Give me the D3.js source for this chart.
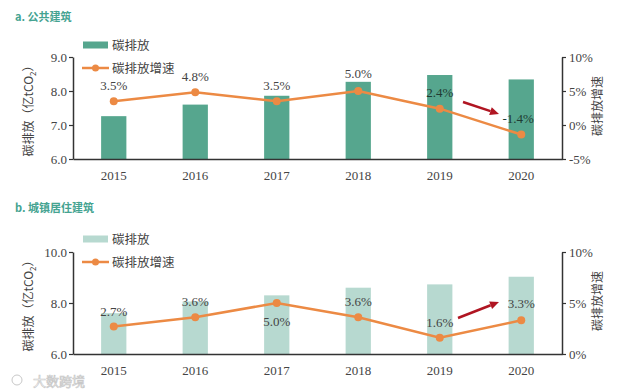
<!DOCTYPE html>
<html><head><meta charset="utf-8">
<script src="https://cdn.jsdelivr.net/npm/d3@7"></script>
<style>
body{margin:0;background:#fff;}
svg{display:block;}
</style></head>
<body>
<svg id="c" width="640" height="392"></svg>
<script>
const years = ["2015","2016","2017","2018","2019","2020"];
// a. 公共建筑
const pubEmission = [7.26, 7.6, 7.86, 8.27, 8.47, 8.34];
const pubGrowth = [3.5, 4.8, 3.5, 5.0, 2.4, -1.4];
const pubLeftTicks = [6, 7, 8, 9];
const pubRightTicks = [-5, 0, 5, 10];
// b. 城镇居住建筑
const resEmission = [7.6, 8.06, 8.3, 8.6, 8.73, 9.03];
const resGrowth = [2.7, 3.6, 5.0, 3.6, 1.6, 3.3];
const resLeftTicks = [6, 8, 10];
const resRightTicks = [0, 5, 10];

const svg = d3.select("#c");
const serif = "'Liberation Serif','Times New Roman',serif";
const cjk = "'Noto Sans CJK SC',sans-serif";

function panel(o){
  const g = svg.append("g");
  const x = d3.scaleBand().domain(years).range([73, 562]).paddingInner(0.69).paddingOuter(0.345);
  const yL = d3.scaleLinear().domain(o.leftDomain).range([o.bottom, o.top]);
  const yR = d3.scaleLinear().domain(o.rightDomain).range([o.bottom, o.top]);

  // title
  g.append("text").attr("x", 15).attr("y", o.titleY).attr("font-family", cjk)
    .attr("font-size", 11).attr("font-weight", "bold").attr("fill", "#45a391").text(o.title);

  // bars
  g.selectAll("rect.bar").data(o.emission).enter().append("rect")
    .attr("x", (d,i)=>x(years[i])).attr("width", x.bandwidth())
    .attr("y", d=>yL(d)).attr("height", d=>yL(o.leftDomain[0]) - yL(d))
    .attr("fill", o.barColor);

  // left axis
  const la = g.append("g").attr("transform", "translate(73,0)")
    .call(d3.axisLeft(yL).tickValues(o.leftTicks).tickFormat(d3.format(".1f")).tickSize(4).tickSizeOuter(0));
  // right axis
  const ra = g.append("g").attr("transform", "translate(562,0)")
    .call(d3.axisRight(yR).tickValues(o.rightTicks).tickFormat(d=>d+"%").tickSize(4).tickSizeOuter(0));
  // x axis
  const xa = g.append("g").attr("transform", `translate(0,${o.bottom})`)
    .call(d3.axisBottom(x).tickSize(0).tickSizeOuter(0));
  [la, ra, xa].forEach(a=>{
    a.select(".domain").attr("stroke", "#333").attr("stroke-width", 1.5);
    a.selectAll(".tick line").attr("stroke", "#333").attr("stroke-width", 1.2);
    a.selectAll("text").attr("font-family", serif).attr("font-size", 13).attr("fill", "#444");
  });
  xa.selectAll("text").attr("dy", "1.4em");
  la.selectAll("text").attr("x", -6);
  ra.selectAll("text").attr("x", 7);

  // axis titles
  const lt = g.append("text").attr("transform", `translate(33,${(o.top+o.bottom)/2}) rotate(-90)`)
    .attr("text-anchor", "middle").attr("font-family", cjk).attr("font-size", 12).attr("fill", "#444");
  lt.append("tspan").text("碳排放（亿tCO");
  lt.append("tspan").attr("font-size", 8).attr("dy", 3).text("2");
  lt.append("tspan").attr("dy", -3).text("）");
  g.append("text").attr("transform", `translate(602,${(o.top+o.bottom)/2 - 2}) rotate(-90)`)
    .attr("text-anchor", "middle").attr("font-family", cjk).attr("font-size", 12).attr("fill", "#444")
    .text("碳排放增速");

  // line
  const cx = i => x(years[i]) + x.bandwidth()/2;
  const line = d3.line().x((d,i)=>cx(i)).y(d=>yR(d));
  g.append("path").datum(o.growth).attr("d", line).attr("fill", "none")
    .attr("stroke", "#ec8a44").attr("stroke-width", 2.5);
  g.selectAll("circle.pt").data(o.growth).enter().append("circle")
    .attr("cx", (d,i)=>cx(i)).attr("cy", d=>yR(d)).attr("r", 4).attr("fill", "#ec8a44");

  // labels
  g.selectAll("text.lbl").data(o.growth).enter().append("text")
    .attr("x", (d,i)=>cx(i) + o.labelDx[i]).attr("y", (d,i)=>yR(d) + o.labelDy[i])
    .attr("text-anchor", "middle").attr("font-family", serif).attr("font-size", 13)
    .attr("fill", (d,i)=>o.labelDark[i] ? "#1f3b33" : "#444")
    .text(d=>d.toFixed(1)+"%");

  // red arrow
  const a = o.arrow;
  const ang = Math.atan2(a[3]-a[1], a[2]-a[0]);
  const hl = 9, hw = 4;
  const bx = a[2] - hl*Math.cos(ang), by = a[3] - hl*Math.sin(ang);
  g.append("line").attr("x1", a[0]).attr("y1", a[1]).attr("x2", bx).attr("y2", by)
    .attr("stroke", "#b01522").attr("stroke-width", 2.5);
  g.append("path").attr("d", `M${a[2]},${a[3]} L${bx - hw*Math.sin(ang)},${by + hw*Math.cos(ang)} L${bx + hw*Math.sin(ang)},${by - hw*Math.cos(ang)} Z`)
    .attr("fill", "#b01522");

  // legend
  g.append("rect").attr("x", 83).attr("y", o.legY - 3.5).attr("width", 25).attr("height", 7).attr("fill", o.barColor);
  g.append("text").attr("x", 112).attr("y", o.legY + 4.5).attr("font-family", cjk).attr("font-size", 12.5).attr("fill", "#444").text("碳排放");
  g.append("line").attr("x1", 82).attr("x2", 109).attr("y1", o.legY + 23).attr("y2", o.legY + 23)
    .attr("stroke", "#ec8a44").attr("stroke-width", 2.5);
  g.append("circle").attr("cx", 95.5).attr("cy", o.legY + 23).attr("r", 3.5).attr("fill", "#ec8a44");
  g.append("text").attr("x", 112).attr("y", o.legY + 27.5).attr("font-family", cjk).attr("font-size", 12.5).attr("fill", "#444").text("碳排放增速");
}

panel({
  title: "a. 公共建筑", titleY: 21,
  emission: pubEmission, growth: pubGrowth,
  leftDomain: [6, 9], rightDomain: [-5, 10],
  leftTicks: pubLeftTicks, rightTicks: pubRightTicks,
  top: 57, bottom: 159, barColor: "#56a68e",
  labelDx: [0, 0, 0, 0, 0, -3],
  labelDy: [-11.5, -11, -11.5, -13.5, -12, -12],
  labelDark: [false, false, false, false, true, true],
  arrow: [463, 102, 499, 114],
  legY: 45
});
panel({
  title: "b. 城镇居住建筑", titleY: 212,
  emission: resEmission, growth: resGrowth,
  leftDomain: [6, 10], rightDomain: [0, 10],
  leftTicks: resLeftTicks, rightTicks: resRightTicks,
  top: 252, bottom: 354, barColor: "#b7d9d0",
  labelDx: [0, 0, 0, 0, 0, 0],
  labelDy: [-10, -11, 22.5, -11, -11, -12],
  labelDark: [false, false, false, false, false, false],
  arrow: [458, 318, 499, 302],
  legY: 239
});

// watermark
svg.append("text").attr("x", 33).attr("y", 386).attr("font-family", cjk).attr("font-size", 13)
  .attr("fill", "#fff").attr("stroke", "#c8c8c8").attr("stroke-width", 0.7).text("大数跨境");
svg.append("circle").attr("cx", 17).attr("cy", 380).attr("r", 5).attr("fill", "none").attr("stroke", "#c8c8c8").attr("stroke-width", 1);
</script>
</body></html>
